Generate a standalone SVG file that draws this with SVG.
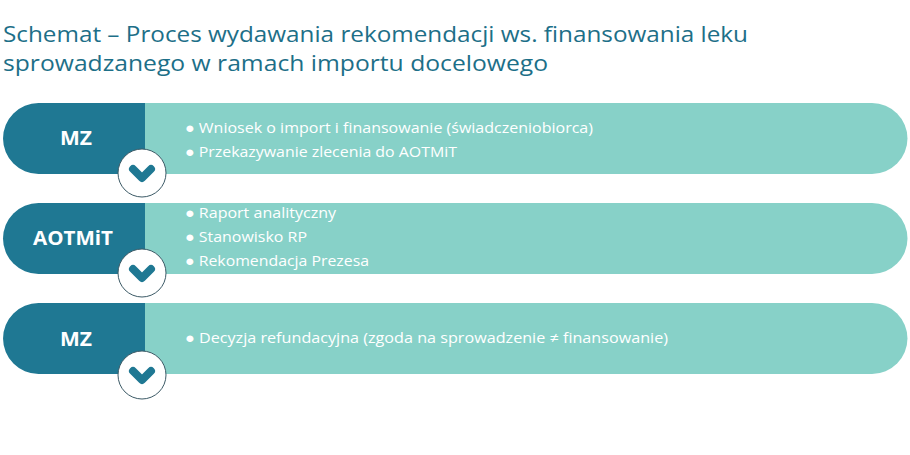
<svg xmlns="http://www.w3.org/2000/svg" width="910" height="455" viewBox="0 0 910 455">
<style>
.title{font-family:"Open Sans","Liberation Sans",sans-serif;font-size:22px;fill:#1d6f88;}
.lbl{font-family:"Open Sans","Liberation Sans",sans-serif;font-size:19px;font-weight:700;fill:#ffffff;}
.item{font-family:"Open Sans","Liberation Sans",sans-serif;font-size:15px;fill:#ffffff;}
.dark{fill:#1f7893;}
.light{fill:#87d1c8;}
.circ{fill:#ffffff;stroke:#3c5a66;stroke-width:1;}
.chev{fill:none;stroke:#1f7893;stroke-width:8;stroke-linecap:round;stroke-linejoin:round;}
</style>
<defs>
<g id="chevron"><circle class="circ" r="24"/><path class="chev" d="M-9,-4 L0,5 L9,-4"/></g>
</defs>
<rect width="910" height="455" fill="#ffffff"/>
<text class="title" x="3" y="42" textLength="745" lengthAdjust="spacingAndGlyphs">Schemat – Proces wydawania rekomendacji ws. finansowania leku</text>
<text class="title" x="3" y="71" textLength="545" lengthAdjust="spacingAndGlyphs">sprowadzanego w ramach importu docelowego</text>
<g id="node-mz1">
<path class="light" d="M140,103 H872 A35.5,35.5 0 0 1 872,174 H140 Z"/>
<path class="dark" d="M145,103 V174 H38.5 A35.5,35.5 0 0 1 38.5,103 Z"/>
<text class="lbl" x="76" y="145" text-anchor="middle" textLength="32" lengthAdjust="spacingAndGlyphs">MZ</text>
<text class="item" x="185" y="133" textLength="408" lengthAdjust="spacingAndGlyphs">● Wniosek o import i finansowanie (świadczeniobiorca)</text>
<text class="item" x="185" y="157" textLength="272" lengthAdjust="spacingAndGlyphs">● Przekazywanie zlecenia do AOTMiT</text>
</g>
<g id="node-aotmit">
<path class="light" d="M140,203 H872 A35.5,35.5 0 0 1 872,274 H140 Z"/>
<path class="dark" d="M145,203 V274 H38.5 A35.5,35.5 0 0 1 38.5,203 Z"/>
<text class="lbl" x="73" y="245" text-anchor="middle" textLength="80" lengthAdjust="spacingAndGlyphs">AOTMiT</text>
<text class="item" x="185" y="218" textLength="151" lengthAdjust="spacingAndGlyphs">● Raport analityczny</text>
<text class="item" x="185" y="242" textLength="122" lengthAdjust="spacingAndGlyphs">● Stanowisko RP</text>
<text class="item" x="185" y="266" textLength="184" lengthAdjust="spacingAndGlyphs">● Rekomendacja Prezesa</text>
</g>
<g id="node-mz2">
<path class="light" d="M140,303 H872 A35.5,35.5 0 0 1 872,374 H140 Z"/>
<path class="dark" d="M145,303 V374 H38.5 A35.5,35.5 0 0 1 38.5,303 Z"/>
<text class="lbl" x="76" y="346" text-anchor="middle" textLength="32" lengthAdjust="spacingAndGlyphs">MZ</text>
<text class="item" x="185" y="343" textLength="483" lengthAdjust="spacingAndGlyphs">● Decyzja refundacyjna (zgoda na sprowadzenie ≠ finansowanie)</text>
</g>
<g id="connectors">
<use href="#chevron" x="142" y="173"/>
<use href="#chevron" x="142" y="273"/>
<use href="#chevron" x="142" y="375"/>
</g>
</svg>
